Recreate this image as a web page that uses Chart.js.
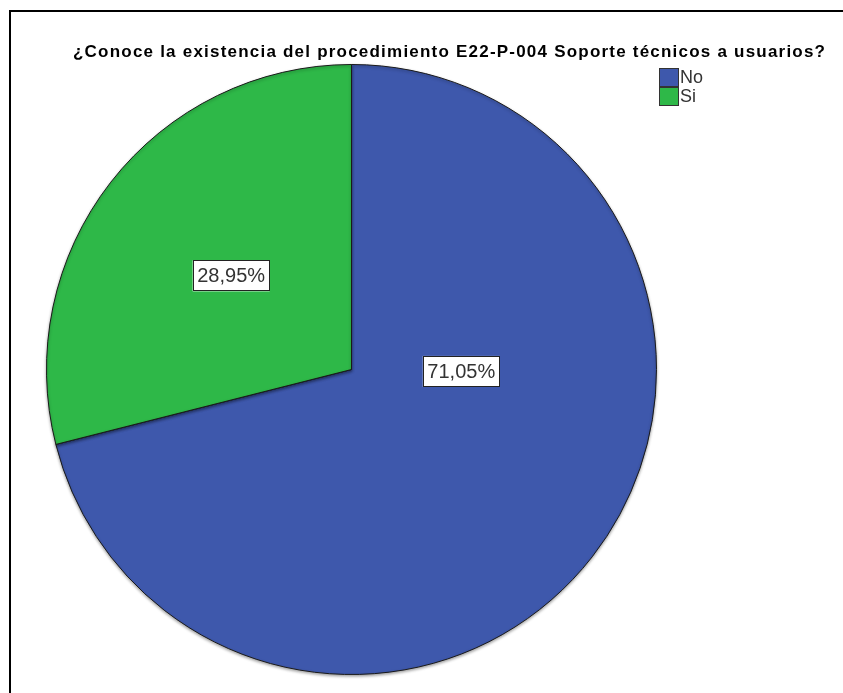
<!DOCTYPE html>
<html>
<head>
<meta charset="utf-8">
<script src="https://cdn.jsdelivr.net/npm/chart.js@4"></script>
<style>
  html, body { margin: 0; padding: 0; background: #fff; }
  #wrap { width: 843px; height: 693px; }
</style>
</head>
<body>
<div id="wrap"><canvas id="myChart" width="843" height="693"></canvas></div>
<script>
// Datos de la encuesta
var titulo = '¿Conoce la existencia del procedimiento E22-P-004 Soporte técnicos a usuarios?';
var categorias = ['No', 'Si'];
var porcentajes = [71.05, 28.95];
var colores = ['#3E58AC', '#2EB848'];

// Posición de cada etiqueta dentro de su sector (ángulo en grados desde arriba, null = centro del sector)
var anclaEtiquetas = [
    { angulo: 91, radio: 0.36 },
    { angulo: null, radio: 0.5 }
];

function formatoPct(v) {
    return v.toFixed(2).replace('.', ',') + '%';
}

// Marco, título y leyenda dibujados a mano
var decoracion = {
    id: 'decoracion',
    beforeDraw: function (chart) {
        var c = chart.ctx;
        c.save();
        c.fillStyle = '#fff';
        c.fillRect(0, 0, chart.width, chart.height);
        c.fillStyle = '#000';
        c.fillRect(9, 10, chart.width - 9, 2);   // línea superior
        c.fillRect(9, 10, 2, chart.height - 10); // línea izquierda
        c.restore();
    },
    beforeDatasetsDraw: function (chart) {
        var c = chart.ctx;
        c.save();
        c.shadowColor = 'rgba(0,0,0,0.35)';
        c.shadowBlur = 3;
        c.shadowOffsetY = 1.5;
    },
    afterDatasetsDraw: function (chart) {
        chart.ctx.restore();
    },
    afterDraw: function (chart) {
        var c = chart.ctx;
        c.save();

        // título
        c.font = 'bold 17px "Liberation Sans", Arial, sans-serif';
        c.fillStyle = '#000';
        c.textBaseline = 'alphabetic';
        c.textAlign = 'left';
        var w = c.measureText(titulo).width;
        c.letterSpacing = ((752 - w) / (titulo.length - 1)) + 'px';
        c.fillText(titulo, 73, 57);
        c.letterSpacing = '0px';

        // leyenda
        c.font = '18px "Liberation Sans", Arial, sans-serif';
        c.textBaseline = 'middle';
        categorias.forEach(function (cat, i) {
            var y = 68 + i * 19;
            c.fillStyle = colores[i];
            c.fillRect(659, y, 20, 19);
            c.strokeStyle = '#333';
            c.lineWidth = 1;
            c.strokeRect(659.5, y + 0.5, 19, 18);
            c.fillStyle = '#333';
            c.fillText(cat, 680, y + 10);
        });

        // etiquetas de porcentaje
        var meta = chart.getDatasetMeta(0);
        c.font = '20px "Liberation Sans", Arial, sans-serif';
        c.textAlign = 'center';
        meta.data.forEach(function (arc, i) {
            var p = arc.getProps(['x', 'y', 'startAngle', 'endAngle', 'outerRadius'], true);
            var ancla = anclaEtiquetas[i];
            var ang = ancla.angulo === null
                ? (p.startAngle + p.endAngle) / 2
                : (ancla.angulo - 90) * Math.PI / 180;
            var d = p.outerRadius * ancla.radio;
            var x = p.x + Math.cos(ang) * d;
            var y = p.y + Math.sin(ang) * d;
            var txt = formatoPct(porcentajes[i]);
            var bw = 77, bh = 31;
            c.fillStyle = '#fff';
            c.fillRect(x - bw / 2, y - bh / 2, bw, bh);
            c.strokeStyle = '#222';
            c.lineWidth = 1;
            c.strokeRect(Math.round(x - bw / 2) + 0.5, Math.round(y - bh / 2) + 0.5, bw - 1, bh - 1);
            c.fillStyle = '#333';
            c.fillText(txt, x, y + 1);
        });
        c.restore();
    }
};

var ctx = document.getElementById('myChart').getContext('2d');
var chart = new Chart(ctx, {
    type: 'pie',
    data: {
        labels: categorias,
        datasets: [{
            data: porcentajes,
            backgroundColor: colores,
            borderColor: '#1a1a1a',
            borderWidth: 1
        }]
    },
    options: {
        responsive: false,
        animation: false,
        layout: {
            padding: { left: 46, right: 186, top: 64, bottom: 18 }
        },
        plugins: {
            legend: { display: false },
            title: { display: false },
            tooltip: { enabled: false }
        }
    },
    plugins: [decoracion]
});
</script>
</body>
</html>
